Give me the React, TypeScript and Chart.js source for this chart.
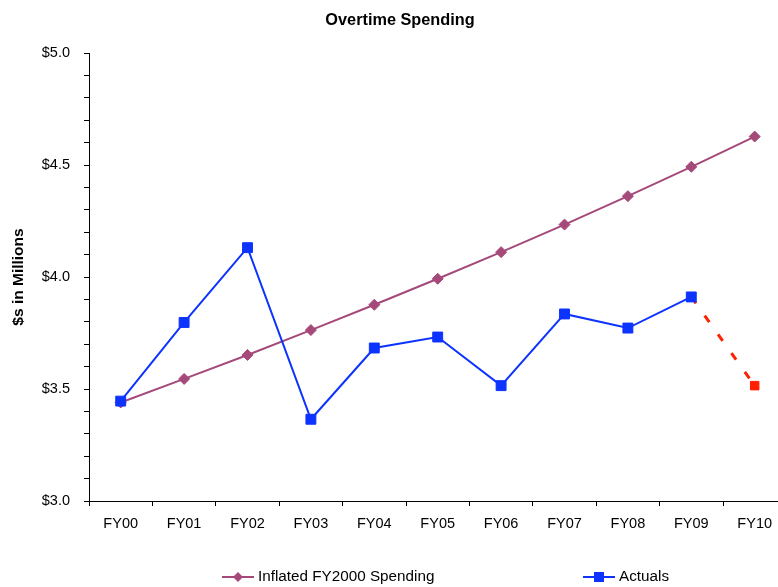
import React, { useEffect, useRef } from 'react';
import { Chart, registerables } from 'chart.js';

Chart.register(...registerables);

// ---- Data ----
const categories = ['FY00', 'FY01', 'FY02', 'FY03', 'FY04', 'FY05', 'FY06', 'FY07', 'FY08', 'FY09', 'FY10'];
const inflatedSpending = [3.44, 3.545, 3.652, 3.763, 3.876, 3.992, 4.111, 4.234, 4.361, 4.492, 4.627];
const actuals = [3.446, 3.797, 4.131, 3.365, 3.683, 3.732, 3.515, 3.835, 3.772, 3.911, null];
const projected = [null, null, null, null, null, null, null, null, null, 3.911, 3.515];
const yMin = 3.0;
const yMax = 5.0;
const yMinorStep = 0.1;
const yLabelStep = 0.5;

const chartTitle = 'Overtime Spending';
const yAxisTitle = '$s in Millions';
const legendLabels = ['Inflated FY2000 Spending', 'Actuals'];

// ---- Styles ----
const FONT = "'Liberation Sans', Arial, Helvetica, sans-serif";
const PLUM = '#A4497A';
const BLUE = '#0D33FF';
const RED = '#FF2200';

function drawDiamond(ctx: CanvasRenderingContext2D, x: number, y: number, r: number, color: string) {
  ctx.beginPath();
  ctx.moveTo(x - r, y);
  ctx.lineTo(x, y - r);
  ctx.lineTo(x + r, y);
  ctx.lineTo(x, y + r);
  ctx.closePath();
  ctx.fillStyle = color;
  ctx.fill();
}

function drawSquare(ctx: CanvasRenderingContext2D, x: number, y: number, half: number, color: string) {
  ctx.fillStyle = color;
  ctx.fillRect(x - half, y - half, half * 2, half * 2);
}

const excelLegend = {
  id: 'excelLegend',
  afterDraw(chart: any) {
    const ctx: CanvasRenderingContext2D = chart.ctx;
    const y = 577;
    const items = [
      { text: legendLabels[0], color: PLUM, marker: 'diamond', x: 222 },
      { text: legendLabels[1], color: BLUE, marker: 'square', x: 583 },
    ];
    ctx.save();
    items.forEach((it) => {
      ctx.strokeStyle = it.color;
      ctx.lineWidth = 2;
      ctx.beginPath();
      ctx.moveTo(it.x, y);
      ctx.lineTo(it.x + 32, y);
      ctx.stroke();
      if (it.marker === 'diamond') drawDiamond(ctx, it.x + 16, y, 5, it.color);
      else drawSquare(ctx, it.x + 16, y, 5, it.color);
      ctx.fillStyle = '#000';
      ctx.font = `15.25px ${FONT}`;
      ctx.textBaseline = 'middle';
      ctx.textAlign = 'left';
      ctx.fillText(it.text, it.x + 36, y);
    });
    ctx.restore();
  },
};

export default function App() {
  const canvasRef = useRef<HTMLCanvasElement | null>(null);

  useEffect(() => {
    if (!canvasRef.current) return;
    Chart.defaults.font.family = FONT;
    const chart = new Chart(canvasRef.current, {
      type: 'line',
      data: {
        labels: categories,
        datasets: [
          {
            label: legendLabels[1],
            data: actuals,
            borderColor: BLUE,
            backgroundColor: BLUE,
            borderWidth: 2,
            pointStyle: 'rect',
            pointRadius: 7,
            pointBorderWidth: 1,
            pointBorderColor: BLUE,
            pointBackgroundColor: BLUE,
            tension: 0,
            order: 0,
          },
          {
            label: 'Projected',
            data: projected,
            borderColor: RED,
            backgroundColor: RED,
            borderWidth: 3,
            borderDash: [8, 15],
            pointStyle: 'rect',
            pointRadius: projected.map((v, i) => (i === projected.length - 1 ? 6 : 0)),
            pointBorderWidth: 1,
            pointBorderColor: RED,
            pointBackgroundColor: RED,
            tension: 0,
            order: 1,
          },
          {
            label: legendLabels[0],
            data: inflatedSpending,
            borderColor: PLUM,
            backgroundColor: PLUM,
            borderWidth: 2,
            pointStyle: 'rectRot',
            pointRadius: 5.5,
            pointBorderWidth: 1,
            pointBorderColor: PLUM,
            pointBackgroundColor: PLUM,
            tension: 0,
            order: 2,
          },
        ],
      },
      options: {
        responsive: false,
        animation: false,
        devicePixelRatio: 1,
        events: [],
        layout: { padding: { left: 13.6, right: 13.6, top: 0, bottom: 46 } },
        plugins: {
          legend: { display: false },
          tooltip: { enabled: false },
          title: {
            display: true,
            text: chartTitle,
            color: '#000',
            font: { size: 16.3, weight: 'bold', family: FONT },
            padding: { top: 11, bottom: 22.44 },
          },
        },
        scales: {
          x: {
            type: 'category',
            offset: true,
            grid: {
              display: true,
              offset: true,
              drawOnChartArea: false,
              drawTicks: true,
              tickLength: 5,
              color: '#000',
            },
            border: { display: true, color: '#000', width: 1 },
            ticks: {
              color: '#000',
              font: { size: 14.5, family: FONT },
              padding: 9,
              autoSkip: false,
              maxRotation: 0,
            },
            afterFit: (scale: any) => {
              scale.height = 40;
            },
          },
          y: {
            type: 'linear',
            min: yMin,
            max: yMax,
            grid: {
              display: true,
              drawOnChartArea: false,
              drawTicks: true,
              tickLength: 5,
              color: '#000',
            },
            border: { display: true, color: '#000', width: 1 },
            ticks: {
              stepSize: yMinorStep,
              autoSkip: false,
              color: '#000',
              font: { size: 14.5, family: FONT },
              padding: 14,
              callback: (value: any) => {
                const v = Number(value);
                const k = v / yLabelStep;
                return Math.abs(k - Math.round(k)) < 1e-6 ? '$' + v.toFixed(1) : '';
              },
            },
            title: {
              display: true,
              text: yAxisTitle,
              color: '#000',
              font: { size: 15.5, weight: 'bold', family: FONT },
              padding: { top: -3.9, bottom: 0 },
            },
            afterFit: (scale: any) => {
              scale.width = 75.4;
            },
          },
        },
      },
      plugins: [excelLegend],
    });
    return () => chart.destroy();
  }, []);

  return (
    <div style={{ position: 'absolute', left: 0, top: 0, width: 778, height: 587, overflow: 'hidden', background: '#fff' }}>
      <canvas ref={canvasRef} width={800} height={587} style={{ display: 'block' }} />
    </div>
  );
}
